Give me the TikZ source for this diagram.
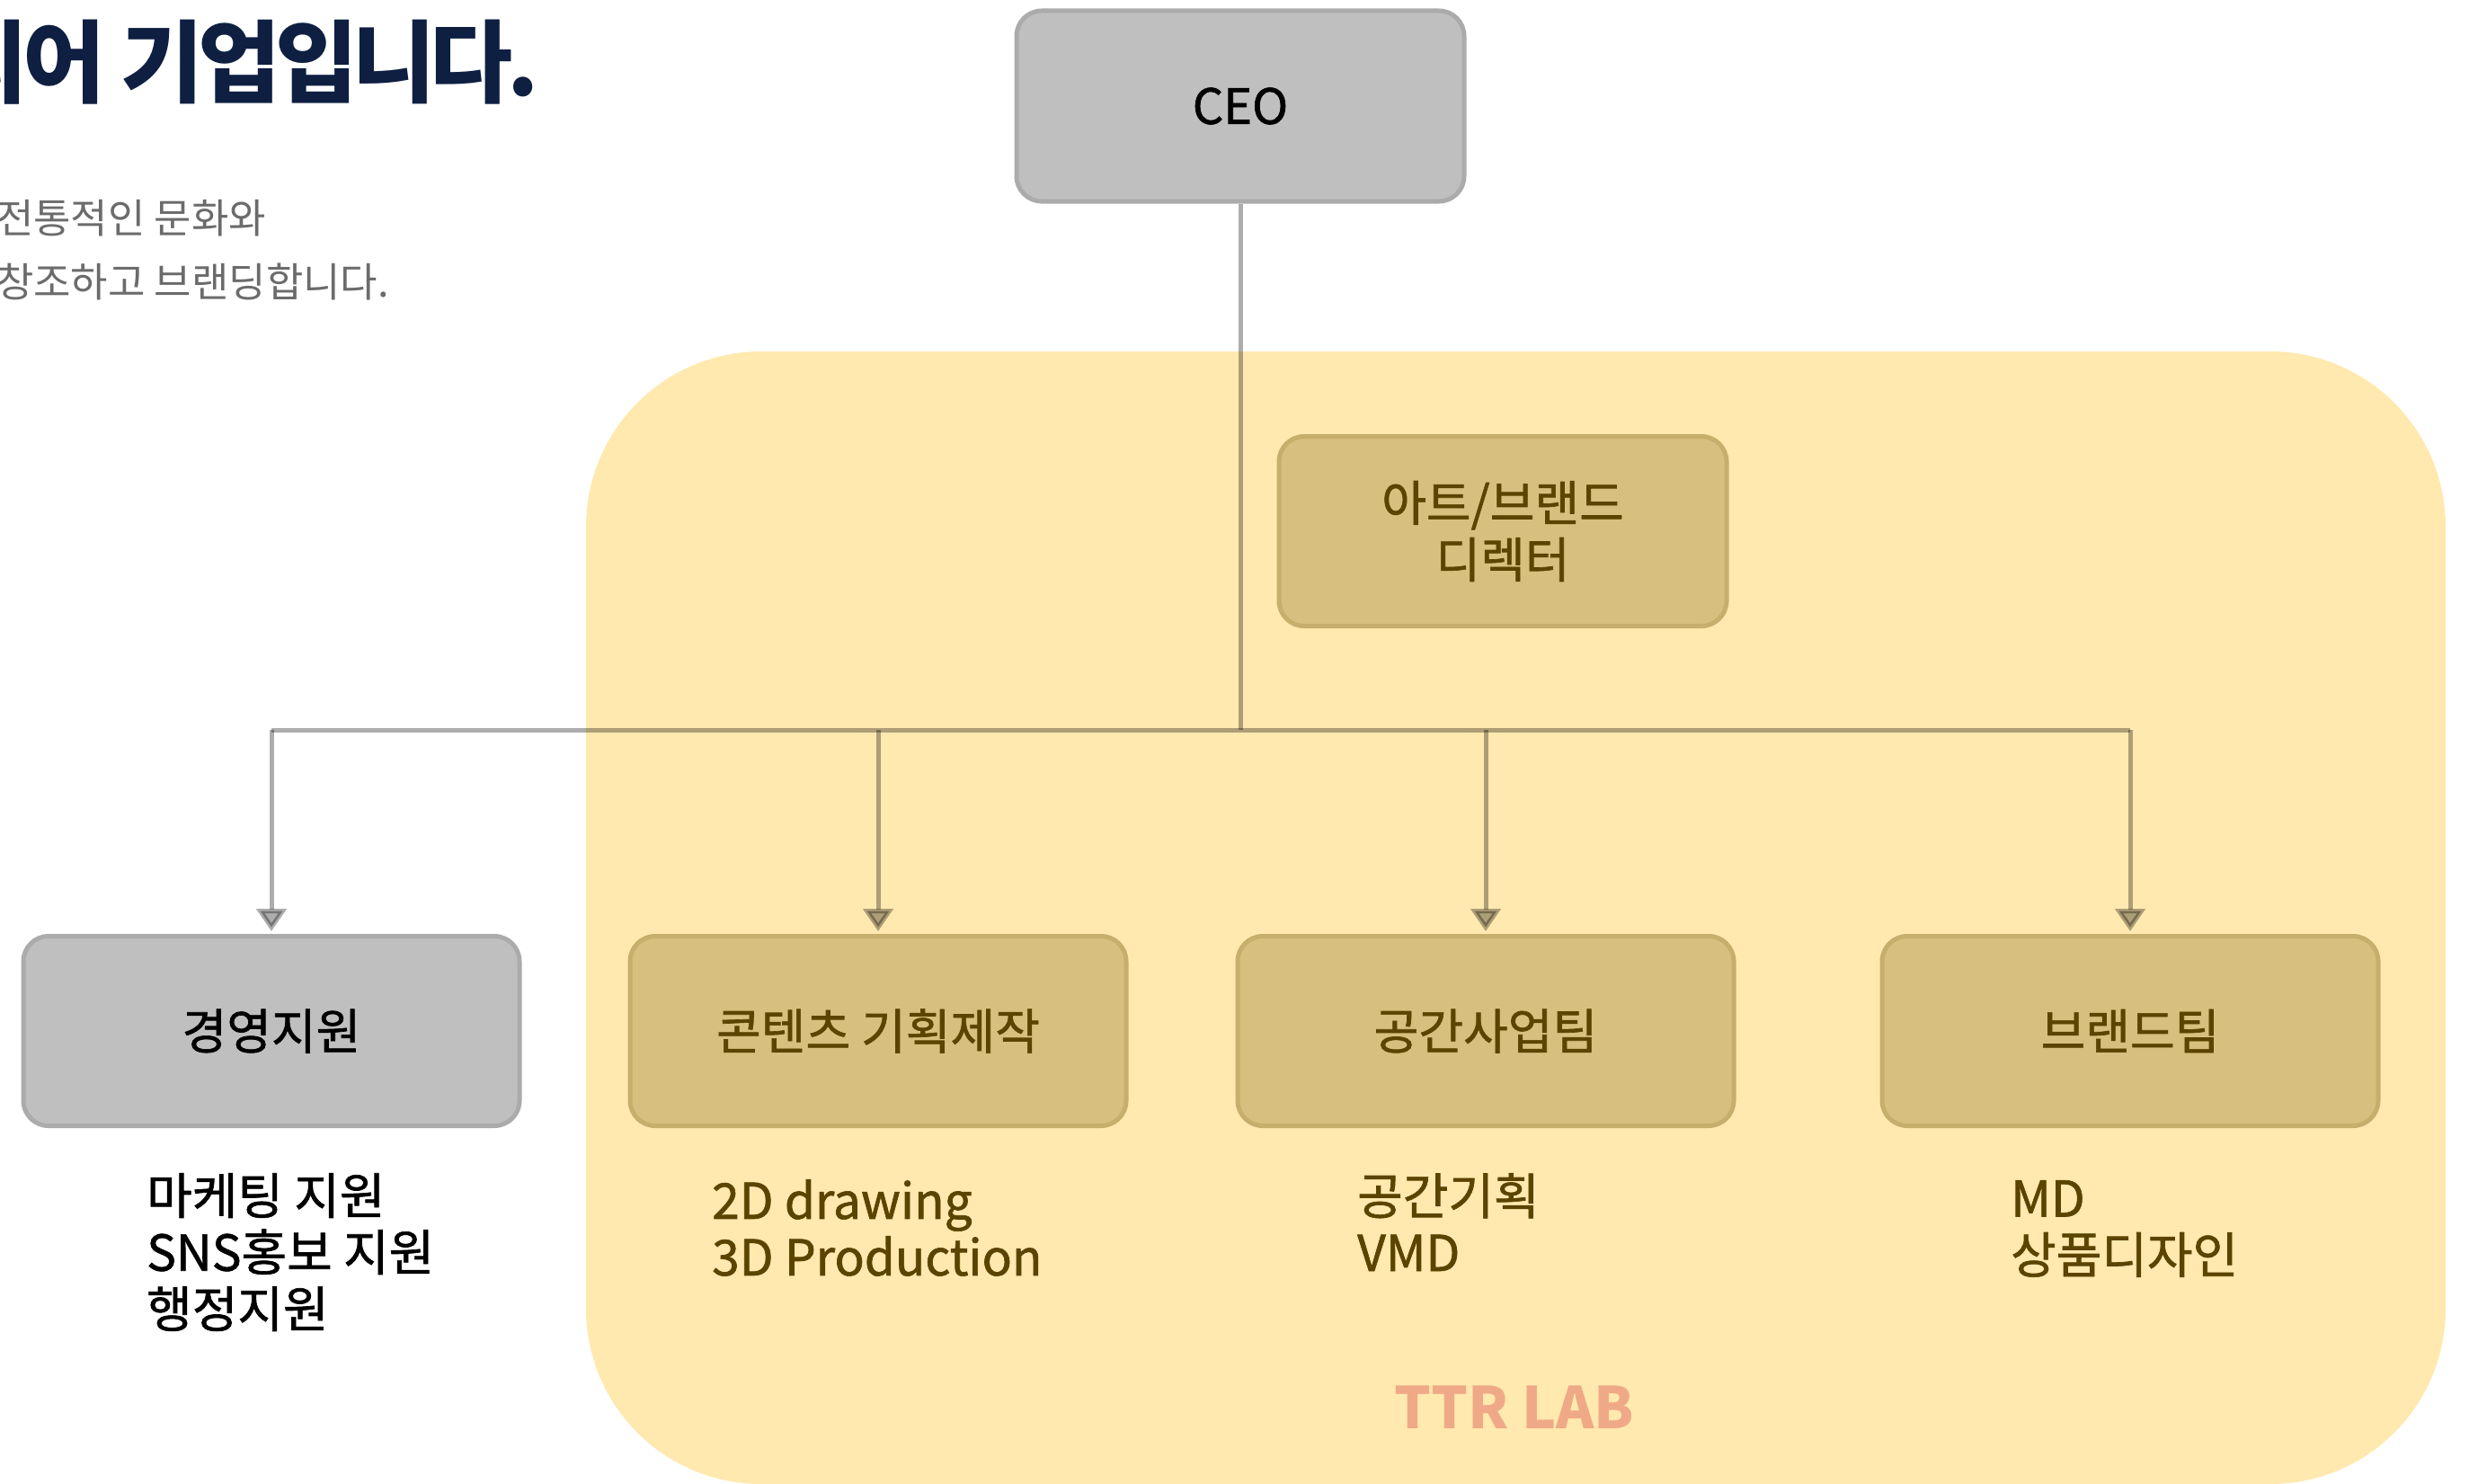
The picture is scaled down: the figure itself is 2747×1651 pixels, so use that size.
\documentclass[tikz,border=0pt]{standalone}
\usepackage{fontspec}
\setmainfont{Noto Sans CJK KR}
\newfontfamily\chartfont{Noto Sans CJK KR}[FakeBold=1.2]
\usetikzlibrary{positioning,arrows.meta}

\definecolor{lineGray}{HTML}{ADADAD}
\definecolor{boxGray}{HTML}{BFBFBF}
\definecolor{boxGrayEdge}{HTML}{ABABAB}
\definecolor{boxOlive}{HTML}{D6BF7F}
\definecolor{boxOliveEdge}{HTML}{C6AE6C}
\definecolor{labYellow}{HTML}{FFE9AF}
\definecolor{labSalmon}{HTML}{F0A987}
\definecolor{textBrown}{HTML}{5B4300}
\definecolor{titleNavy}{HTML}{0F1F42}
\definecolor{subGray}{HTML}{6B6B6B}

\begin{document}
\begin{tikzpicture}[x=1pt,y=-1pt]
    \tikzset{unit/.style={rounded corners=28pt,line width=5pt,inner sep=0pt,
        minimum width=552pt,minimum height=211pt,font=\chartfont\fontsize{54}{63}\selectfont},
      grayunit/.style={unit,draw=boxGrayEdge,fill=boxGray,text=black},
      oliveunit/.style={unit,draw=boxOliveEdge,fill=boxOlive,text=textBrown},
      duty/.style={anchor=north west,inner sep=0pt,align=left,
        font=\chartfont\fontsize{55}{63}\selectfont},
      link/.style={draw=lineGray,line width=5pt},
      arrowlink/.style={link,shorten >=3pt,-{Triangle[width=33pt,length=25pt]}}}
    \useasboundingbox (0,0) rectangle (2747,1651);
    % TTR LAB area
    \fill[labYellow,rounded corners=195pt] (652,391) rectangle (2721,1651);
    \node[text=labSalmon,font=\fontsize{64}{70}\selectfont\bfseries] (lab) at (1685,1566) {TTR LAB};
    % heading, cut at the left edge
    \node[anchor=south east,inner sep=0pt,text=titleNavy,
      font=\addfontfeatures{LetterSpace=-6}\fontsize{100}{110}\selectfont\bfseries] (headline) at (600,117) {디어 기업입니다.};
    \node[anchor=north west,inner sep=0pt,align=left,text=subGray,
      font=\fontsize{45}{71}\selectfont] (intro) at (-4,222) {전통적인 문화와\\창조하고 브랜딩합니다.};
    % chart
    \node[grayunit,minimum width=498pt,minimum height=212pt] (ceo) at (1380,118) {CEO};
    \node[oliveunit,minimum width=498pt,align=center] (director) at (1672,591) {아트/브랜드\\디렉터};
    \node[grayunit] (support) at (302,1147) {경영지원};
    \node[oliveunit] (contents) at (977,1147) {콘텐츠 기획제작};
    \node[oliveunit] (space) at (1653,1147) {공간사업팀};
    \node[oliveunit] (brand) at (2370,1147) {브랜드팀};
    \node[duty,text=black] (supportduty) at (163,1305) {마케팅 지원\\SNS홍보 지원\\행정지원};
    \node[duty,text=textBrown] (contentsduty) at (792,1312) {2D drawing\\3D Production};
    \node[duty,text=textBrown] (spaceduty) at (1510,1305) {공간기획\\VMD};
    \node[duty,text=textBrown] (brandduty) at (2237,1313) {MD\\상품디자인};
    \coordinate (split) at (1380,812);
    \begin{scope}[blend mode=multiply]
      \draw[link] (ceo.south) -- (split);
      \draw[link] (support.north |- split) -- (brand.north |- split);
      \foreach \team in {support,contents,space,brand}
        \draw[arrowlink] (\team.north |- split) -- (\team.north);
    \end{scope}
\end{tikzpicture}
\end{document}
